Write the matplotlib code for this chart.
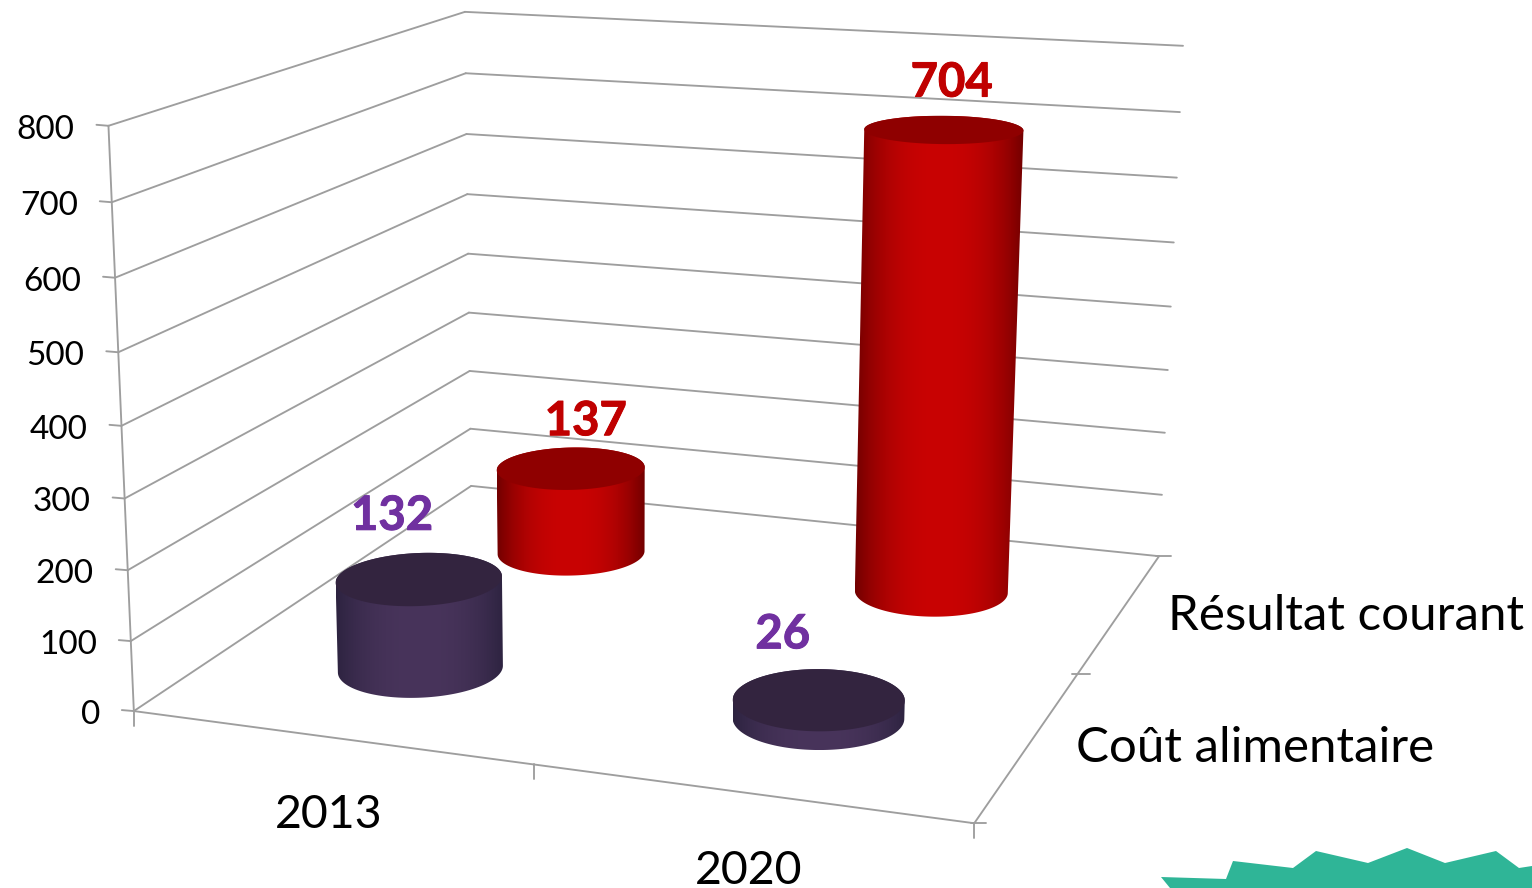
import numpy as np
import matplotlib
matplotlib.use("Agg")
import matplotlib.pyplot as plt
import matplotlib.patheffects as pe
from matplotlib.colors import to_rgb
from matplotlib.patches import Polygon

# data
years = ["2013", "2020"]
series = ["Coût alimentaire", "Résultat courant"]
cout_alimentaire = [132, 26]
resultat_courant = [137, 704]
value_ticks = [0, 100, 200, 300, 400, 500, 600, 700, 800]

# colours
GRID = "#9e9e9e"
RED_TOP, RED_SIDE, RED_EDGE = "#8f0000", "#c90303", "#720000"
PURPLE_TOP, PURPLE_SIDE, PURPLE_EDGE = "#33243f", "#48345b", "#2d2340"

plt.rcParams["font.family"] = ["Lato", "DejaVu Sans"]

W, H = 1532, 888
fig = plt.figure(figsize=(W / 100, H / 100), dpi=100)
ax = fig.add_axes([0, 0, 1, 1])
ax.axis("off")

# perspective box: (x, depth, value/800) -> where it lands on the canvas
box_pts = [
    ((0, 0, 0), (134, 711)), ((1, 0, 0), (974, 824)),
    ((0, 1, 0), (471, 487)), ((1, 1, 0), (1159, 555)),
    ((0, 0, 1), (108, 126)), ((0, 1, 1), (465, 12)), ((1, 1, 1), (1183, 46)),
    ((0, 0, .5), (122, 425)), ((0, 1, .5), (468, 253)), ((1, 1, .5), (1171, 307)),
]
A = []
b = []
for (cx, cy, cz), (u, v) in box_pts:
    A.append([cx, cy, cz, 1, 0, 0, 0, 0, -u * cx, -u * cy, -u * cz])
    A.append([0, 0, 0, 0, cx, cy, cz, 1, -v * cx, -v * cy, -v * cz])
    b += [u, v]
h = np.linalg.lstsq(np.array(A, float), np.array(b, float), rcond=None)[0]
P = np.append(h, 1).reshape(3, 4)


def project(x, d, val):
    x, d, val = np.broadcast_arrays(x, d, val)
    pts = np.stack([x, d, val / 800, np.ones_like(x, dtype=float)])
    q = P @ pts
    return q[0] / q[2], q[1] / q[2]


def seg(p, q):
    ax.plot([p[0], q[0]], [p[1], q[1]], color=GRID, lw=1.35, solid_capstyle="round")


def hull(points):
    # monotone chain, the wall outline is the hull of both ellipses
    pts = sorted(map(tuple, points))
    def half(seq):
        out = []
        for p in seq:
            while len(out) > 1 and (out[-1][0] - out[-2][0]) * (p[1] - out[-2][1]) - (out[-1][1] - out[-2][1]) * (p[0] - out[-2][0]) <= 0:
                out.pop()
            out.append(p)
        return out[:-1]
    return np.array(half(pts) + half(pts[::-1]))


# walls and floor lines
for v in value_ticks:
    seg(project(0, 0, v), project(0, 1, v))
    seg(project(0, 1, v), project(1, 1, v))
    lx, ly = project(0, 0, v)
    seg((lx - 12, ly - 1), (lx, ly))
    ax.text(lx - 34, ly + 4, str(v), ha="right", va="center", fontsize=24, color="black")
seg(project(0, 0, 0), project(0, 0, 800))
seg(project(0, 0, 0), project(1, 0, 0))
seg(project(1, 0, 0), project(1, 1, 0))

# ticks on the floor
for x in [0, 0.5, 1]:
    px, py = project(x, 0, 0)
    seg((px, py), (px, py + 15))
for d in [0, 0.5, 1]:
    px, py = project(1, d, 0)
    seg((px - 6 if d == 0.5 else px - 3, py), (px + 12, py))


def cylinder(x, d, val, top, side, edge, rx=0.098, ry=0.105):
    t = np.linspace(0, 2 * np.pi, 241)
    cx = x + rx * np.cos(t)
    cy = d + ry * np.sin(t)
    bx, by = project(cx, cy, 0)
    tx, ty = project(cx, cy, val)
    z = 3 + (1 - d)

    outline = hull(np.column_stack([np.r_[bx, tx], np.r_[by, ty]]))
    left, right = outline[:, 0].min(), outline[:, 0].max()
    low, high = outline[:, 1].min(), outline[:, 1].max()

    # left-right shading of the wall
    u = np.abs(np.linspace(-1, 1, 300))
    k = (np.clip(u, 0, 1) ** 2.4)[:, None]
    grad = (np.array(to_rgb(side)) * (1 - k) + np.array(to_rgb(edge)) * k)[None, :, :]
    im = ax.imshow(grad, extent=(left, right, high, low), aspect="auto", zorder=z, interpolation="bilinear")
    im.set_clip_path(Polygon(outline, closed=True, transform=ax.transData))
    ax.fill(tx, ty, color=top, lw=0, zorder=z + 0.5)


# cylinders, the far row first
x_pos = [0.2525, 0.7525]
depth_pos = [0.25, 0.75]
for i in range(2):
    cylinder(x_pos[i], depth_pos[1], resultat_courant[i], RED_TOP, RED_SIDE, RED_EDGE)
for i in range(2):
    cylinder(x_pos[i], depth_pos[0], cout_alimentaire[i], PURPLE_TOP, PURPLE_SIDE, PURPLE_EDGE)

# value labels, nudged off the cylinder tops
cout_off = [(-27, -63), (-36, -65)]
res_off = [(15, -47), (8, -47)]
thick = [pe.withStroke(linewidth=0.7, foreground="#7030a0")]
thick_red = [pe.withStroke(linewidth=0.7, foreground="#c00000")]
for i in range(2):
    px, py = project(x_pos[i], depth_pos[0], cout_alimentaire[i])
    ax.text(px + cout_off[i][0], py + cout_off[i][1], str(cout_alimentaire[i]), color="#7030a0",
            fontsize=34, fontweight="bold", ha="center", va="center", zorder=6, path_effects=thick)
    px, py = project(x_pos[i], depth_pos[1], resultat_courant[i])
    ax.text(px + res_off[i][0], py + res_off[i][1], str(resultat_courant[i]), color="#c00000",
            fontsize=34, fontweight="bold", ha="center", va="center", zorder=6, path_effects=thick_red)

# category and series labels
for i in range(2):
    px, py = project(x_pos[i], 0, 0)
    ax.text(px - 2, py + 78, years[i], fontsize=33.5, ha="center", va="center", color="black")
    px, py = project(1, depth_pos[i], 0)
    ax.text(px + 47, py + 4, series[i], fontsize=35.5, ha="left", va="center", color="black")

# bit of the slide decoration, bottom right corner
deco_x = [1161, 1226, 1233, 1293, 1316, 1368, 1407, 1445, 1496, 1519, 1532, 1532, 1170]
deco_y = [877, 879, 861, 868, 851, 863, 848, 863, 851, 868, 866, 888, 888]
ax.fill(deco_x, deco_y, color="#2fb597", lw=0)

ax.set_xlim(0, W)
ax.set_ylim(H, 0)

fig.savefig("out.png", dpi=100)
